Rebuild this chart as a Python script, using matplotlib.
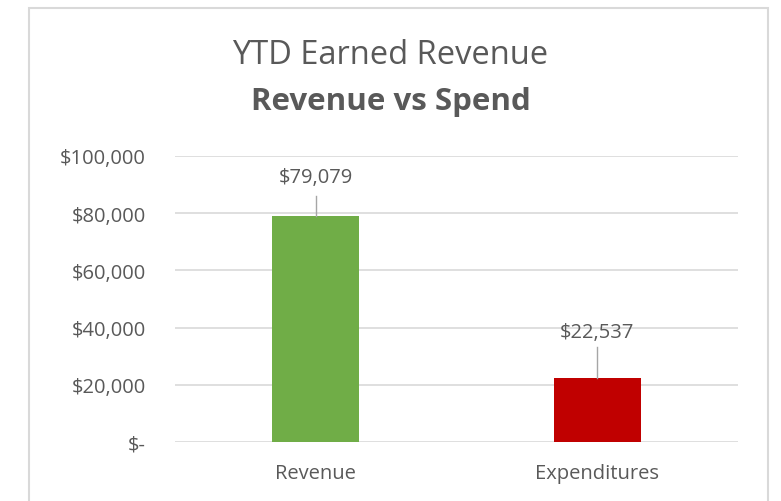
import matplotlib.pyplot as plt
from matplotlib.patches import Rectangle
from matplotlib.ticker import FuncFormatter

plt.rcParams['font.family'] = ['Open Sans', 'DejaVu Sans']

# datos del grafico
categorias = ['Revenue', 'Expenditures']
valores = [79079, 22537]
colores = ['#70AD47', '#C00000']
ticks_y = [0, 20000, 40000, 60000, 80000, 100000]

gris_texto = '#595959'
gris_linea = '#D9D9D9'

fig = plt.figure(figsize=(7.81, 5.02), dpi=100)
ax = fig.add_axes([175 / 781, 1 - 443 / 502, (738 - 175) / 781, (443 - 157) / 502])

# marco del grafico (el borde inferior queda fuera de la imagen)
fig.patches.append(Rectangle((29 / 781, -0.05), (768 - 29) / 781, 1.05 - 9 / 502,
                             transform=fig.transFigure, fill=False,
                             edgecolor='#D9D9D9', linewidth=1.5))

x = range(len(categorias))
ax.bar(x, valores, width=0.31, color=colores, zorder=3)
ax.set_xlim(-0.5, len(categorias) - 0.5)
ax.set_ylim(0, 100000)
ax.set_yticks(ticks_y)
ax.yaxis.set_major_formatter(FuncFormatter(lambda v, p: '$-' if v == 0 else f'${v:,.0f}'))
ax.set_xticks(list(x))
ax.set_xticklabels(categorias)
ax.tick_params(axis='both', length=0, colors=gris_texto, labelsize=14.5)
ax.tick_params(axis='y', pad=21)
ax.tick_params(axis='x', pad=15)
for s in ax.spines.values():
    s.set_visible(False)
ax.grid(axis='y', color=gris_linea, linewidth=1.2, zorder=0)

# etiquetas con linea guia
pos_etiqueta = [92500, 38600]
tope_linea = [86000, 33300]
for i, v in enumerate(valores):
    ax.plot([i, i], [v, tope_linea[i]], color='#A6A6A6', linewidth=1, zorder=4)
    ax.text(i, pos_etiqueta[i], f'${v:,}', ha='center', va='center',
            color=gris_texto, fontsize=14.5, zorder=5)

fig.text(0.5, 1 - 55 / 502, 'YTD Earned Revenue', ha='center', va='center',
         fontsize=23.5, color=gris_texto)
fig.text(0.5, 1 - 102 / 502, 'Revenue vs Spend', ha='center', va='center',
         fontsize=22.5, fontweight='bold', color=gris_texto)

plt.savefig('out.png', dpi=100)
